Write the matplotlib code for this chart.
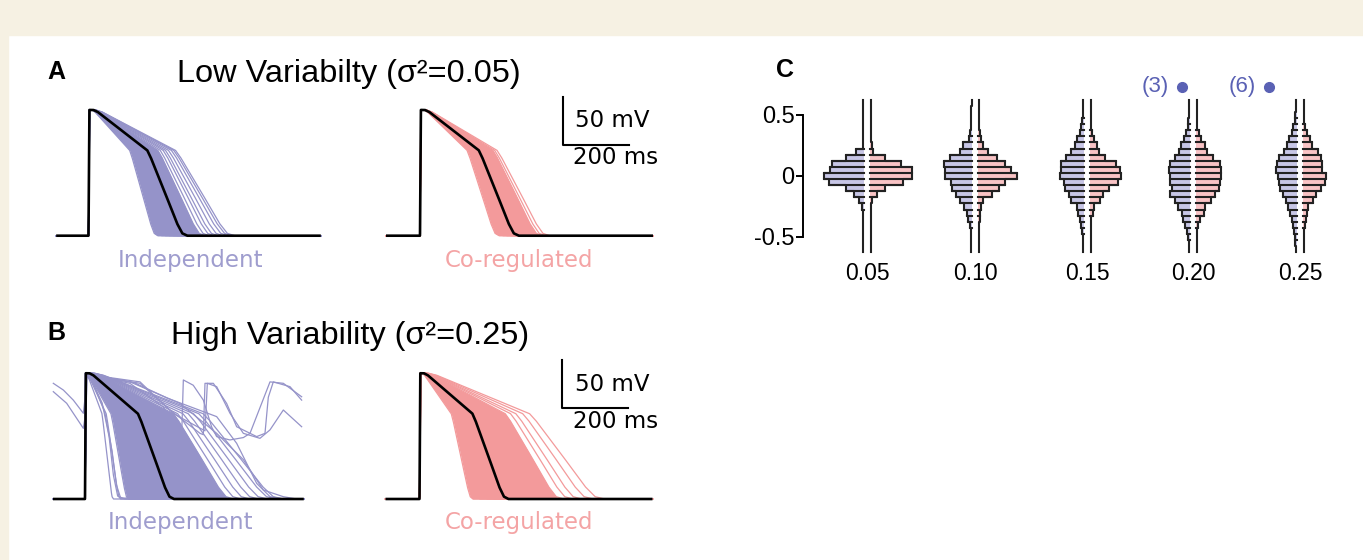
import numpy as np
import matplotlib
matplotlib.use("Agg")
import matplotlib.pyplot as plt
from matplotlib.patches import Rectangle

W, H, DPI = 1363, 560, 100
plt.rcParams['font.family'] = ['Liberation Sans', 'DejaVu Sans']

# ---------------- panels A / B : action potentials ----------------
# control AP (black trace): time (ms), voltage (mV)
ap_t = [0, 2.6, 14.7, 27.6, 178, 188, 228, 268, 284, 299]
ap_v = [-85, 46, 46, 44, 4, -3, -37, -72, -82.5, -85]
ctrl_scale_B = 0.90          # the control trace in row B is a little shorter

# APD scale factors of the population traces (relative to control)
indep_A_dense = [0.70, 0.74, 0.78, 0.82, 0.86, 0.90, 0.94, 0.98, 1.02, 1.06, 1.10, 1.14, 1.18]
indep_A_sparse = [1.22, 1.27, 1.31, 1.36, 1.41, 1.45, 1.48]
coreg_A_dense = [0.80, 0.84, 0.88, 0.92, 0.96, 1.00, 1.04, 1.08, 1.12, 1.16, 1.20, 1.24]
coreg_A_sparse = [1.27, 1.31]
indep_B_dense = [0.49, 0.56, 0.64, 0.72, 0.80, 0.90, 1.00, 1.10, 1.20, 1.30, 1.40, 1.50, 1.60, 1.67]
indep_B_sparse = [0.32, 0.40, 1.75, 1.85, 1.95, 2.05, 2.15, 2.23]
coreg_B_dense = [0.60, 0.68, 0.76, 0.84, 0.92, 1.00, 1.10, 1.20, 1.30, 1.40, 1.50, 1.62]
coreg_B_sparse = [1.72, 1.82, 1.95, 2.08]

# irregular traces of the independent high-variability population (ms, mV)
ead_traces = [
    ([-96, -65.6, -35.4, -5, 0, 2.6, 21, 52, 73, 86, 99, 121, 663],
     [35.5, 28.5, 18, 4.3, 20, 45, 38, 15, -20, -60, -82, -85, -85]),
    ([-96, -55.5, -5, 0, 2.6, 26, 60, 82, 95, 108, 663],
     [26.8, 14.7, -11.4, 0, 44, 35, 5, -35, -70, -84, -85]),
    ([0, 2.6, 136, 237, 288, 293, 298, 328, 358.6, 383.8, 399, 439, 480, 500, 560.6, 601, 656.5],
     [-85, 45, 35.5, 11, -16.6, -18, 39, 33.5, 18, -10, -20, -23.5, -21, -16.6, 37, 35.5, 21.5]),
    ([0, 2.6, 166.7, 257.6, 348.5, 358.6, 363.6, 388.9, 429.3, 459.6, 520.2, 545.4, 555.5, 570.6, 621.2, 656.5],
     [-85, 45, 35.5, 7.7, -16.6, -18, 35.5, 35.5, 14.5, -9.7, -20, -16.6, 21, 37, 32, 18]),
    ([0, 2.6, 166.7, 267.7, 363.6, 370.7, 399, 439.4, 479.8, 530.2, 560.6, 601, 656.5],
     [-85, 45, 37, 4, -14, 35.5, 32, 4.3, -16.6, -21.8, -13, 7.7, -9.7]),
    ([0, 2.6, 136.4, 287.9, 399, 479.8, 540.3, 601, 641.4, 663],
     [-85, 45, 37, 14.5, -16.6, -44, -75.6, -82.6, -85, -85]),
    ([0, 2.6, 150, 250, 399, 459.6, 520.2, 560.6, 600, 663],
     [-85, 45, 36, 20, 0.8, -27, -68.7, -82.6, -85, -85]),
]

# ---------------- panel C : mirrored histograms ----------------
bin_y = [0.60, 0.55, 0.50, 0.45, 0.40, 0.35, 0.30, 0.25, 0.20, 0.15, 0.10, 0.05, 0.0,
         -0.05, -0.10, -0.15, -0.20, -0.25, -0.30, -0.35, -0.40, -0.45, -0.50, -0.55, -0.60]
groups = ['0.05', '0.10', '0.15', '0.20', '0.25']
hist_indep = [
    [0.6, 0.7, 0.8, 0.9, 1.0, 1.1, 1.3, 1.5, 7.7, 17.7, 32, 34, 40, 35, 17.7, 10.3, 5.3, 2, 1.3, 1.1, 1.0, 0.9, 0.8, 0.7, 0.6],
    [0.5, 0.6, 0.8, 1.0, 1.2, 1.7, 3.3, 9, 12, 22, 27.7, 26.7, 26.7, 21, 19.7, 15.7, 11.7, 8.3, 5, 4, 2.3, 1.5, 1.0, 0.8, 0.6],
    [0.8, 1.0, 1.4, 2.0, 2.7, 4.3, 6.7, 9.3, 13.3, 17.7, 22.7, 22.7, 24.3, 20, 18.7, 15.3, 12.7, 6.7, 6, 4.3, 3.3, 2, 1.5, 1.1, 0.8],
    [0.8, 1.1, 1.5, 1.8, 2.3, 4, 5.7, 9, 11.3, 14.7, 20, 21.3, 20, 20, 18, 20, 14.7, 12.3, 8, 6.7, 4.7, 3.3, 2.3, 1.5, 1.0],
    [1.0, 1.3, 1.7, 2.3, 4, 5, 7.7, 10, 13.3, 17.7, 20, 21, 19, 17.7, 16.7, 14.3, 11, 9, 6.7, 5, 4, 3.3, 2.3, 1.7, 1.2],
]
hist_coreg = [
    [0.5, 0.6, 0.7, 0.8, 0.9, 1.0, 1.2, 1.5, 3.3, 15, 30.7, 42, 42, 33, 15, 6.7, 1.7, 1.2, 1.0, 0.9, 0.8, 0.7, 0.6, 0.5, 0.5],
    [0.5, 0.6, 0.7, 0.9, 1.2, 1.8, 3.3, 5, 10, 19.3, 27.3, 33.3, 39, 26.7, 20.7, 14, 5, 3.3, 2, 1.5, 1.2, 1.0, 0.8, 0.6, 0.5],
    [0.5, 0.6, 0.7, 0.8, 0.9, 2, 3.7, 7, 9.3, 15.3, 26, 30.3, 31.3, 28, 19.3, 12.7, 10.3, 3.7, 2.7, 1.3, 1.0, 0.9, 0.8, 0.6, 0.5],
    [0.6, 0.7, 0.8, 1.0, 1.3, 3, 4.7, 8.7, 10.7, 17.3, 24, 25.3, 25.3, 24, 23, 18.7, 14.7, 8.7, 8, 4, 2, 1.3, 1.0, 0.8, 0.6],
    [0.6, 0.7, 0.8, 1.0, 2, 4.3, 6.7, 8.7, 15.3, 17.7, 19.3, 19.3, 23.3, 22, 17.7, 13.3, 10, 5.3, 4.3, 2.7, 2, 1.3, 1.0, 0.8, 0.6],
]
outlier_counts = ['(3)', '(6)']   # independent outliers of the 0.20 and 0.25 groups
outlier_y = 0.73

BLUE = '#9593c9'
RED = '#f39a9b'
BLUE_FILL = '#c7c6e6'
RED_FILL = '#f9c3c5'
EDGE = '#222222'
MARK = '#5a61b4'
BEIGE = '#f6f1e3'

MS_PX = 200 / 66.0
MV_PX = 50 / 48.0

fig = plt.figure(figsize=(W / DPI, H / DPI), dpi=DPI)
fig.patches.append(Rectangle((0, 1 - 35 / H), 1, 35 / H, transform=fig.transFigure,
                             color=BEIGE, zorder=-5))
fig.patches.append(Rectangle((0, 0), 8 / W, 1, transform=fig.transFigure,
                             color=BEIGE, zorder=-5))


def fx(x):
    return x / W


def fy(y):
    return 1 - y / H


def trace_axes(x0, x1, y0, y1, ux, by):
    # ux: pixel x of the upstroke, by: pixel y of the -85 mV baseline
    ax = fig.add_axes([fx(x0), fy(y1), (x1 - x0) / W, (y1 - y0) / H])
    ax.set_xlim((x0 - ux) * MS_PX, (x1 - ux) * MS_PX)
    ax.set_ylim(-85 - (y1 - by) * MV_PX, -85 + (by - y0) * MV_PX)
    ax.axis('off')
    return ax


def ap(t, s):
    return np.interp(t / s, ap_t, ap_v, left=-85, right=-85)


def draw_traces(ax, t0, t1, ctrl, dense, sparse, color, extra=()):
    t = np.linspace(t0, t1, 3000)
    ax.fill_between(t, ap(t, ctrl * min(dense)), ap(t, ctrl * max(dense)),
                    color=color, lw=0)
    for s in dense + sparse:
        ax.plot(t, ap(t, ctrl * s), color=color, lw=0.9)
    for tt, vv in extra:
        ax.plot(tt, vv, color=color, lw=0.9)
    ax.plot(t, ap(t, ctrl), color='black', lw=1.9, solid_capstyle='butt')


def scale_bar(ax):
    t0, v0 = 433, 9.5
    ax.plot([t0, t0, t0 + 200], [v0 + 50, v0, v0], color='black', lw=1.5, clip_on=False)
    ax.text(t0 + 37, v0 + 25, '50 mV', fontsize=16.5, family='DejaVu Sans',
            va='center', ha='left')
    ax.text(t0 + 31, v0 - 13.5, '200 ms', fontsize=16.5, family='DejaVu Sans',
            va='center', ha='left')


# row A
axA1 = trace_axes(40, 330, 90, 245, 88.5, 235.7)
draw_traces(axA1, -98, 704, 1.0, indep_A_dense, indep_A_sparse, BLUE)
axA2 = trace_axes(375, 670, 90, 245, 420, 235.7)
draw_traces(axA2, -103, 706, 1.0, coreg_A_dense, coreg_A_sparse, RED)
scale_bar(axA2)

# row B
axB1 = trace_axes(40, 330, 350, 505, 85, 499)
draw_traces(axB1, -97, 663, ctrl_scale_B, indep_B_dense, indep_B_sparse, BLUE, ead_traces)
axB2 = trace_axes(375, 670, 350, 505, 419.5, 499)
draw_traces(axB2, -103, 706, ctrl_scale_B, coreg_B_dense, coreg_B_sparse, RED)
scale_bar(axB2)

# titles and labels
fig.text(fx(56), fy(72), 'A', fontsize=18, fontweight='bold', ha='center', va='center')
fig.text(fx(56), fy(333), 'B', fontsize=18, fontweight='bold', ha='center', va='center')
fig.text(fx(785), fy(70), 'C', fontsize=18, fontweight='bold', ha='center', va='center')
fig.text(fx(349), fy(74), 'Low Variabilty (σ²=0.05)', fontsize=23.4, ha='center', va='center')
fig.text(fx(350), fy(336), 'High Variability (σ²=0.25)', fontsize=23.4, ha='center', va='center')
for x, y, s, c in [(190, 261, 'Independent', BLUE), (519, 261, 'Co-regulated', RED),
                   (180, 523, 'Independent', BLUE), (519, 523, 'Co-regulated', RED)]:
    fig.text(fx(x), fy(y), s, fontsize=16.5, family='DejaVu Sans', color=c,
             ha='center', va='center', alpha=0.9)

# panel C
y_top, y_bot = 176 - 0.66 * 122, 176 + 0.65 * 122
axC = fig.add_axes([fx(803), fy(y_bot), (1360 - 803) / W, (y_bot - y_top) / H])
axC.set_xlim(803, 1360)
axC.set_ylim(-0.65, 0.66)
for sp in ['top', 'right', 'bottom']:
    axC.spines[sp].set_visible(False)
axC.spines['left'].set_bounds(-0.5, 0.5)
axC.spines['left'].set_linewidth(1.4)
axC.set_yticks([-0.5, 0, 0.5])
axC.set_yticklabels(['-0.5', '0', '0.5'])
axC.tick_params(axis='y', length=5, width=1.4, labelsize=17, pad=1)
centers = [867, 975, 1087, 1193, 1300]
axC.set_xticks(centers)
axC.set_xticklabels(groups)
axC.tick_params(axis='x', length=0, labelsize=16.5, pad=5)

G = 3.0
BIN = 0.05


def draw_half(ax, xc, widths, sign, fill):
    y = np.array(bin_y)
    w = np.array(widths, dtype=float)
    inner = xc + sign * G
    left = inner if sign > 0 else inner - w
    ax.barh(y, w, height=BIN, left=left, color=fill, lw=0)
    xs, ys = [], []
    for yi, wi in zip(y, w):
        xo = inner + sign * wi
        xs += [xo, xo]
        ys += [yi + BIN / 2, yi - BIN / 2]
    ax.plot(xs, ys, color=EDGE, lw=1.5)
    for k in range(len(y) - 1):
        m = max(w[k], w[k + 1])
        if m > 1.8:
            ax.plot([inner, inner + sign * m], [y[k] - BIN / 2] * 2, color=EDGE, lw=1.5)


for xc, hb, hr in zip(centers, hist_indep, hist_coreg):
    draw_half(axC, xc, hb, -1, BLUE_FILL)
    draw_half(axC, xc, hr, 1, RED_FILL)

for xc, off, lab in zip(centers[3:], [11, 31], outlier_counts):
    axC.plot([xc - off], [outlier_y], 'o', ms=7, color=MARK, clip_on=False)
    axC.text(xc - off - 13, outlier_y, lab, fontsize=16, color=MARK,
             ha='right', va='center')

fig.savefig('out.png', dpi=DPI)
